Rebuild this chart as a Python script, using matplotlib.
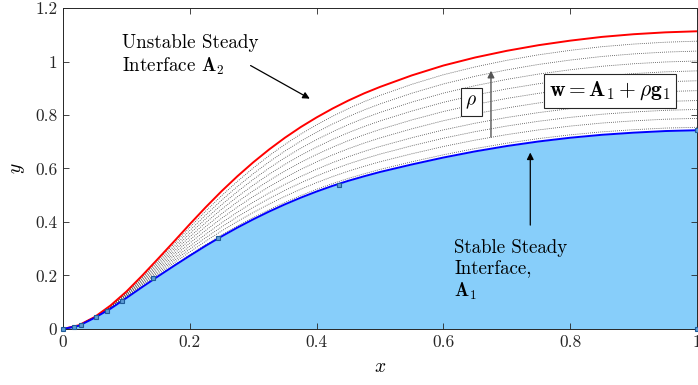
import matplotlib
matplotlib.use("Agg")
import matplotlib.pyplot as plt
import numpy as np

plt.rcParams['font.family'] = 'serif'
plt.rcParams['font.serif'] = ['cmr10']
plt.rcParams['mathtext.fontset'] = 'cm'
plt.rcParams['axes.unicode_minus'] = False

# common x grid for both steady interfaces
x = [0, 0.025, 0.05, 0.075, 0.1, 0.125, 0.15, 0.175, 0.2, 0.225, 0.25, 0.275,
     0.3, 0.325, 0.35, 0.375, 0.4, 0.425, 0.45, 0.475, 0.5,
     0.55, 0.6, 0.65, 0.7, 0.75, 0.8, 0.85, 0.9, 0.95, 1.0]
# unstable interface A2 (red)
y_unstable = [0, 0.014, 0.045, 0.088, 0.14, 0.2, 0.263, 0.327, 0.392, 0.455, 0.515, 0.571,
              0.623, 0.671, 0.715, 0.755, 0.791, 0.824, 0.854, 0.881, 0.905,
              0.948, 0.985, 1.015, 1.04, 1.061, 1.078, 1.092, 1.102, 1.109, 1.113]
# stable interface A1 (blue)
y_stable = [0, 0.012, 0.042, 0.076, 0.116, 0.157, 0.197, 0.236, 0.274, 0.311, 0.346, 0.379,
            0.41, 0.439, 0.466, 0.491, 0.514, 0.535, 0.554, 0.571, 0.587,
            0.615, 0.641, 0.664, 0.684, 0.701, 0.715, 0.726, 0.734, 0.74, 0.743]
# square markers on the stable interface
x_marks = [0, 0.017, 0.028, 0.052, 0.069, 0.093, 0.142, 0.245, 0.435, 1.0, 1.0]
y_marks = [0, 0.007, 0.015, 0.045, 0.067, 0.105, 0.19, 0.339, 0.54, 0.743, 0.0]
# family w = A1 + rho*g1
rho = [0.03, 0.12, 0.21, 0.3, 0.4, 0.5, 0.6, 0.7, 0.8, 0.9]

x = np.array(x)
A1 = np.array(y_stable)
A2 = np.array(y_unstable)
g1 = A2 - A1

fig = plt.figure(figsize=(6.98, 3.85), dpi=100)
ax = fig.add_axes([0.0903, 0.1455, 0.9083, 0.8337])

ax.fill_between(x, 0, A1, color="#87cefa", lw=0, zorder=1)
for r in rho:
    ax.plot(x, A1 + r * g1, ls=(0, (1, 1.5)), color="#444444", lw=0.6, zorder=2)
ax.plot(x, A2, color="red", lw=1.4, zorder=3)
ax.plot(x, A1, color="blue", lw=1.4, zorder=3)
ax.plot(x_marks, y_marks, ls="none", marker="s", ms=3.5, mfc="#5b9bd5",
        mec="#1f5b99", mew=0.8, zorder=4, clip_on=False)

ax.set_xlim(0, 1)
ax.set_ylim(0, 1.2)
ax.set_xticks([0, 0.2, 0.4, 0.6, 0.8, 1])
ax.set_xticklabels(["0", "0.2", "0.4", "0.6", "0.8", "1"])
ax.set_yticks([0, 0.2, 0.4, 0.6, 0.8, 1, 1.2])
ax.set_yticklabels(["0", "0.2", "0.4", "0.6", "0.8", "1", "1.2"])
ax.tick_params(direction="in", length=4, width=0.6, top=True, right=True,
               labelsize=12.5, colors="#262626", pad=4)
for s in ax.spines.values():
    s.set_linewidth(0.7)
    s.set_color("#262626")
ax.set_xlabel("$x$", fontsize=14, labelpad=6)
ax.set_ylabel("$y$", fontsize=14, labelpad=6)

arrow = dict(arrowstyle="-|>", color="black", lw=0.9, mutation_scale=10)

ax.text(0.093, 1.022, "Unstable Steady\nInterface $\\mathbf{A}_2$", fontsize=13.7,
        ha="left", va="center", linespacing=1.2)
ax.annotate("", xy=(0.393, 0.856), xytext=(0.292, 0.99), arrowprops=arrow)

ax.text(0.617, 0.219, "Stable Steady\nInterface,\n$\\mathbf{A}_1$", fontsize=13.6,
        ha="left", va="center", linespacing=1.2)
ax.annotate("", xy=(0.737, 0.67), xytext=(0.737, 0.378), arrowprops=arrow)

ax.annotate("", xy=(0.675, 0.976), xytext=(0.675, 0.707),
            arrowprops=dict(arrowstyle="-|>", color="#555555", lw=1.0, mutation_scale=10))
ax.text(0.644, 0.849, "$\\rho$", fontsize=14, ha="center", va="center",
        bbox=dict(boxstyle="square,pad=0.25", fc="white", ec="#262626", lw=0.8))
ax.text(0.863, 0.89, "$\\mathbf{w} = \\mathbf{A}_1 + \\rho\\mathbf{g}_1$", fontsize=15.5,
        ha="center", va="center",
        bbox=dict(boxstyle="square,pad=0.25", fc="white", ec="#262626", lw=0.8))

fig.savefig("out.png", dpi=100)
